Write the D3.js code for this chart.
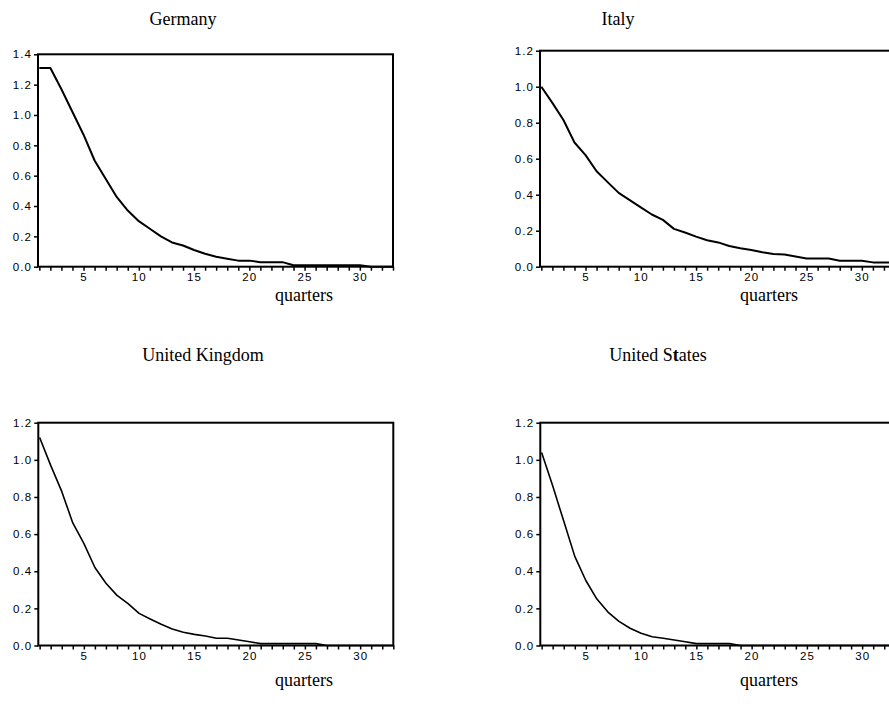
<!DOCTYPE html>
<head>
<meta charset="utf-8">
<style>
    body { margin: 0; background: #fff; }
    .title, .xname { font-family: "Liberation Serif", "Times New Roman", serif; font-size: 18px; }
    .tick text { font-family: "Liberation Sans", Arial, sans-serif; font-size: 11.5px; letter-spacing: 1.1px; }
</style>
</head>
<body>
    <script src="https://d3js.org/d3.v7.min.js"></script>
    <script>

    //////////////////////////
    ////////// DATA //////////
    //////////////////////////

    const quarters = [1, 2, 3, 4, 5, 6, 7, 8, 9, 10, 11, 12, 13, 14, 15, 16, 17,
        18, 19, 20, 21, 22, 23, 24, 25, 26, 27, 28, 29, 30, 31, 32, 33];
    const xTickLabels = [5, 10, 15, 20, 25, 30];

    const germany = [1.31, 1.31, 1.17, 1.02, 0.87, 0.70, 0.58, 0.46, 0.37, 0.30, 0.25,
        0.20, 0.16, 0.14, 0.11, 0.085, 0.066, 0.053, 0.04, 0.04, 0.03, 0.03, 0.03,
        0.01, 0.01, 0.01, 0.01, 0.01, 0.01, 0.01, 0.0, 0.0, 0.0];
    const italy = [1.00, 0.91, 0.815, 0.69, 0.62, 0.53, 0.47, 0.41, 0.37, 0.33, 0.29,
        0.26, 0.21, 0.19, 0.167, 0.147, 0.135, 0.115, 0.102, 0.093, 0.08, 0.07, 0.068,
        0.057, 0.046, 0.046, 0.045, 0.033, 0.033, 0.033, 0.024, 0.024, 0.024];
    const uk = [1.12, 0.97, 0.83, 0.66, 0.55, 0.42, 0.335, 0.27, 0.225, 0.173, 0.143,
        0.114, 0.089, 0.071, 0.06, 0.051, 0.039, 0.039, 0.03, 0.02, 0.01, 0.01, 0.01,
        0.01, 0.01, 0.01, 0.0, 0.0, 0.0, 0.0, 0.0, 0.0, 0.0];
    const us = [1.04, 0.86, 0.67, 0.48, 0.35, 0.25, 0.18, 0.13, 0.093, 0.066, 0.047,
        0.039, 0.03, 0.02, 0.01, 0.01, 0.01, 0.01, 0.0, 0.0, 0.0, 0.0, 0.0,
        0.0, 0.0, 0.0, 0.0, 0.0, 0.0, 0.0, 0.0, 0.0, 0.0];

    const yTicksGermany = [0.0, 0.2, 0.4, 0.6, 0.8, 1.0, 1.2, 1.4];
    const yTicksOther = [0.0, 0.2, 0.4, 0.6, 0.8, 1.0, 1.2];

    ///////////////////////////
    ////////// SETUP //////////
    ///////////////////////////

    const W = 889, H = 720;
    const plotW = 355;

    let svg = d3.select('body').append('svg')
        .attr('width', W)
        .attr('height', H);

    const panels = [
        { name: 'Germany', values: germany, yTicks: yTicksGermany, yMax: 1.4,
          left: 38, top: 54.3, bottom: 266.7, titleX: 183, titleY: 25, qX: 304, qY: 301, lw: 2 },
        { name: 'Italy', values: italy, yTicks: yTicksOther, yMax: 1.2,
          left: 540, top: 50.7, bottom: 266.7, titleX: 618, titleY: 25, qX: 769, qY: 301, lw: 2 },
        { name: 'United Kingdom', values: uk, yTicks: yTicksOther, yMax: 1.2,
          left: 38.3, top: 422.7, bottom: 645.5, titleX: 203, titleY: 361, qX: 304, qY: 686, lw: 1.6 },
        { name: 'United States', values: us, yTicks: yTicksOther, yMax: 1.2,
          left: 540.3, top: 422.7, bottom: 645.5, titleX: 658, titleY: 361, qX: 769, qY: 686, lw: 1.6 }
    ];

    //////////////////////////
    ////////// DRAW //////////
    //////////////////////////

    panels.forEach(function(p) {
        let x = d3.scaleLinear().domain([0.88, 33.0]).range([p.left, p.left + plotW]);
        let y = d3.scaleLinear().domain([0, p.yMax]).range([p.bottom, p.top]);

        // title
        let t = svg.append('text')
            .attr('class', 'title')
            .attr('x', p.titleX)
            .attr('y', p.titleY)
            .attr('text-anchor', 'middle');
        if (p.name === 'United States') {
            t.append('tspan').text('United S');
            t.append('tspan').attr('font-weight', 'bold').text('t');
            t.append('tspan').text('ates');
        } else {
            t.text(p.name);
        }

        // frame
        svg.append('rect')
            .attr('x', p.left)
            .attr('y', p.top)
            .attr('width', plotW)
            .attr('height', p.bottom - p.top)
            .attr('fill', 'none')
            .attr('stroke', '#000')
            .attr('stroke-width', 2);

        // y axis
        let yAxis = svg.append('g')
            .attr('transform', 'translate(' + p.left + ',0)')
            .call(d3.axisLeft(y).tickValues(p.yTicks).tickFormat(d3.format('.1f'))
                .tickSize(4).tickPadding(2));
        yAxis.select('.domain').remove();
        yAxis.selectAll('line').attr('stroke-width', 1.5);

        // x axis: a tick per quarter, labels every 5
        let xAxis = svg.append('g')
            .attr('transform', 'translate(0,' + p.bottom + ')')
            .call(d3.axisBottom(x).tickValues(quarters)
                .tickFormat(function(d) { return xTickLabels.indexOf(d) >= 0 ? d : ''; })
                .tickSize(4).tickPadding(2));
        xAxis.select('.domain').remove();
        xAxis.selectAll('line').attr('stroke-width', 1.5);

        // the response line
        let line = d3.line()
            .x(function(d, i) { return x(quarters[i]); })
            .y(function(d) { return y(d); });

        svg.append('path')
            .attr('d', line(p.values))
            .attr('fill', 'none')
            .attr('stroke', '#000')
            .attr('stroke-width', p.lw)
            .attr('stroke-linejoin', 'round');

        // x axis name
        svg.append('text')
            .attr('class', 'xname')
            .attr('x', p.qX)
            .attr('y', p.qY)
            .attr('text-anchor', 'middle')
            .text('quarters');
    });

    </script>
</body>
